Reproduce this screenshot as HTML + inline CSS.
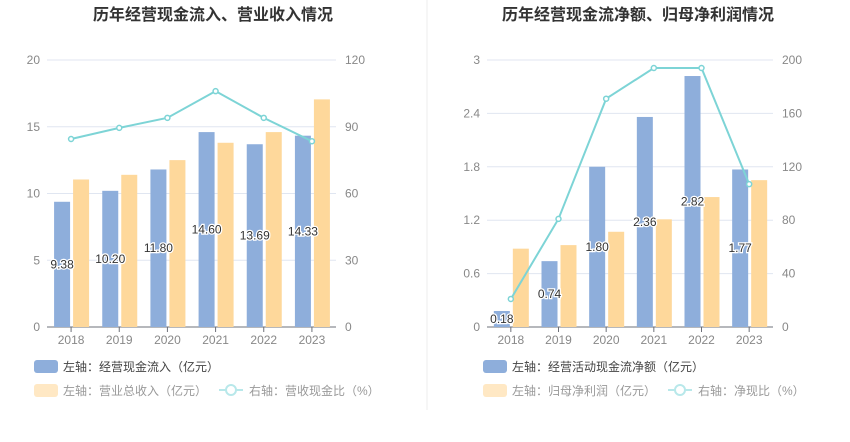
<!DOCTYPE html>
<html><head><meta charset="utf-8"><style>
body{margin:0;background:#fff;font-family:"Liberation Sans","Noto Sans CJK SC",sans-serif;}
svg text{font-family:"Liberation Sans","Noto Sans CJK SC",sans-serif;}
</style></head><body>
<svg id="s" width="850" height="437" xmlns="http://www.w3.org/2000/svg">
<rect width="850" height="437" fill="#fff"/>
<line x1="427" y1="0" x2="427" y2="410" stroke="#eee"/>
<text x="213" y="20" text-anchor="middle" font-size="16" font-weight="bold" fill="#333">历年经营现金流入、营业收入情况</text>
<text x="638" y="20" text-anchor="middle" font-size="16" font-weight="bold" fill="#333">历年经营现金流净额、归母净利润情况</text>
</svg>
<script>
const years=["2018","2019","2020","2021","2022","2023"];
const inflow=[9.38,10.20,11.80,14.60,13.69,14.33];
const revenue=[11.05,11.4,12.5,13.8,14.6,17.05];
const ratio1=[84.5,89.5,94,106,94,83.5];
const leftTicks1=[0,5,10,15,20];
const rightTicks1=[0,30,60,90,120];
const netCash=[0.18,0.74,1.80,2.36,2.82,1.77];
const netProfit=[0.88,0.92,1.07,1.21,1.46,1.65];
const ratio2=[21,81,171,194,194,107];
const leftTicks2=[0,0.6,1.2,1.8,2.4,3];
const rightTicks2=[0,40,80,120,160,200];

const svg=document.getElementById('s');
const NS="http://www.w3.org/2000/svg";
function mk(tag,attrs,name,txt){const e=document.createElementNS(NS,tag);for(const k in attrs)e.setAttribute(k,attrs[k]);


if(txt!==undefined)e.textContent=txt;svg.appendChild(e);return e;}

function chart(o){
 const top=60,bot=327,x0=o.x0,x1=o.x1,cw=(x1-x0)/years.length;
 const yL=v=>bot-v/o.lmax*(bot-top), yR=v=>bot-v/o.rmax*(bot-top);
 o.lt.forEach((t,i)=>{const y=yL(t);
  if(i>0)mk('line',{x1:x0,x2:x1,y1:y,y2:y,stroke:'#e0e6f1'},'grid-line');
  mk('text',{x:x0-7,y:y+4,'text-anchor':'end','font-size':12,fill:'#888'},'left-tick-label',o.fmt(t));
  mk('text',{x:x1+9,y:yR(o.rt[i])+4,'font-size':12,fill:'#888'},'right-tick-label',String(o.rt[i]));});
 mk('line',{x1:x0,x2:x1,y1:bot,y2:bot,stroke:'#6e7079'},'x-axis');
 years.forEach((yr,i)=>{const cx=x0+cw*(i+0.5);
  mk('line',{x1:cx,x2:cx,y1:bot,y2:bot+5,stroke:'#6e7079'},'x-tick');
  mk('text',{x:cx,y:bot+17,'text-anchor':'middle','font-size':12,fill:'#888'},'x-tick-label',yr);
  const a=o.a[i],b=o.b[i];
  mk('rect',{x:cx-17,y:yL(a),width:16,height:bot-yL(a),fill:'#8eaedb'},'bar-'+o.an+'-'+yr);
  mk('rect',{x:cx+2,y:yL(b),width:16,height:bot-yL(b),fill:'#fed89b'},'bar-'+o.bn+'-'+yr);
 });
 const pts=o.r.map((v,i)=>[x0+cw*(i+0.5),yR(v)]);
 mk('polyline',{points:pts.map(p=>p.join(',')).join(' '),fill:'none',stroke:'#7dd4d6','stroke-width':2},'ratio-line');
 pts.forEach(p=>mk('circle',{cx:p[0],cy:p[1],r:2.5,fill:'#fff',stroke:'#7dd4d6','stroke-width':1.5},'ratio-point'));
 years.forEach((yr,i)=>{const cx=x0+cw*(i+0.5)-9,a=o.a[i];
  const ly=Math.min(yL(a)/2+bot/2,bot-8);
  mk('text',{x:cx,y:ly+4,'text-anchor':'middle','font-size':12,fill:'#333',stroke:'#fff','stroke-width':2.5,'paint-order':'stroke'},'bar-value-label',a.toFixed(2));});
 // legend
 const lx=o.lx;
 mk('rect',{x:lx,y:360,width:24,height:13,rx:3,fill:'#8eaedb'},'legend-swatch-'+o.an);
 mk('text',{x:lx+29,y:371,'font-size':12,fill:'#444'},'legend-entry-'+o.an,o.l1);
 mk('rect',{x:lx,y:384,width:24,height:13,rx:3,fill:'#ffe8c4'},'legend-swatch-'+o.bn);
 mk('text',{x:lx+29,y:395,'font-size':12,fill:'#999'},'legend-entry-'+o.bn,o.l2);
 mk('line',{x1:o.l3x,x2:o.l3x+24,y1:390,y2:390,stroke:'#b8e8ea','stroke-width':2},'legend-line-ratio');
 mk('circle',{cx:o.l3x+12,cy:390,r:5,fill:'#fff',stroke:'#b8e8ea','stroke-width':2},'legend-marker-ratio');
 mk('text',{x:o.l3x+30,y:395,'font-size':12,fill:'#999'},'legend-entry-ratio',o.l3);
}
chart({x0:47,x1:336,lmax:20,rmax:120,lt:leftTicks1,rt:rightTicks1,fmt:t=>String(t),a:inflow,b:revenue,r:ratio1,an:'inflow',bn:'revenue',
 lx:34,l1:'左轴：经营现金流入（亿元）',l2:'左轴：营业总收入（亿元）',l3x:219,l3:'右轴：营收现金比（%）'});
chart({x0:487,x1:773,lmax:3,rmax:200,lt:leftTicks2,rt:rightTicks2,fmt:t=>String(t),a:netCash,b:netProfit,r:ratio2,an:'net-cash',bn:'net-profit',
 lx:483,l1:'左轴：经营活动现金流净额（亿元）',l2:'左轴：归母净利润（亿元）',l3x:668,l3:'右轴：净现比（%）'});
</script>
</body></html>
